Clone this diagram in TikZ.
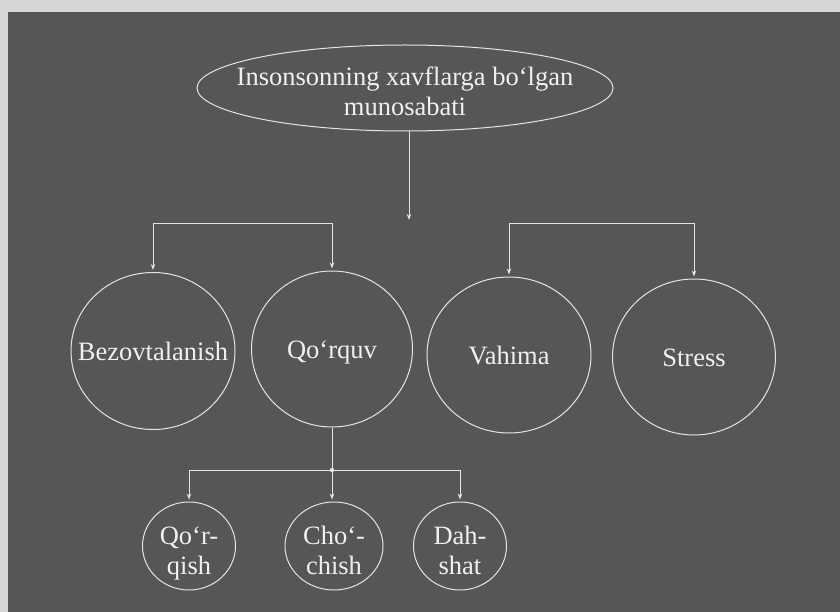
\documentclass[tikz,border=0pt]{standalone}
\usepackage{fontspec}
\setmainfont{Liberation Serif}
\usetikzlibrary{shapes.geometric,arrows.meta}
\definecolor{paper}{HTML}{D6D6D6}
\definecolor{board}{HTML}{565656}
\definecolor{wire}{HTML}{E4E4E4}
\newcommand\bubbletext[2][3pt]{\raisebox{-#1}[\height][\depth]{\makebox[0pt]{\begin{tabular}{@{}c@{}}#2\end{tabular}}}}

\begin{document}
\begin{tikzpicture}[x=1pt,y=-1pt,
                bubble/.style={ellipse,draw=wire,line width=1pt,text=white!94!black,inner sep=0pt,
                               font=\fontsize{26.5}{30}\selectfont},
                link/.style={draw=wire,line width=0.9pt},
                arr/.style={link,-{Stealth[length=6pt,width=4.5pt]},shorten >=2pt}]
                \useasboundingbox (0,0) rectangle (840,612);
                \fill[paper] (0,0) rectangle (840,612);
                \fill[board] (8,12) rectangle (840,612);
                \node[bubble,minimum width=416,minimum height=86] (R) at (405,88) {\bubbletext[7pt]{Insonsonning xavflarga bo‘lgan\\munosabati}};
                \node[bubble,minimum width=164,minimum height=157] (B) at (153,351) {\bubbletext{Bezovtalanish}};
                \node[bubble,minimum width=161,minimum height=156] (Q) at (332,349) {\bubbletext{Qo‘rquv}};
                \node[bubble,minimum width=164,minimum height=156] (V) at (509,355) {\bubbletext{Vahima}};
                \node[bubble,minimum width=163,minimum height=156] (S) at (694,357) {\bubbletext{Stress}};
                \node[bubble,minimum width=93,minimum height=88] (Q1) at (189,546) {\bubbletext[7pt]{Qo‘r-\\qish}};
                \node[bubble,minimum width=98,minimum height=88] (Q2) at (334,546) {\bubbletext[7pt]{Cho‘-\\chish}};
                \node[bubble,minimum width=93,minimum height=88] (Q3) at (460,546) {\bubbletext[7pt]{Dah-\\shat}};
                \coordinate (T) at (409,222);
                \coordinate (J1) at (0,223);
                \coordinate (J2) at (0,470);
                \draw[arr] (R.south -| T) -- (T);
                \draw[link] (B.north |- J1) -- (Q.north |- J1);
                \draw[link] (V.north |- J1) -- (S.north |- J1);
                \draw[arr] (B.north |- J1) -- (B.north);
                \draw[arr] (Q.north |- J1) -- (Q.north);
                \draw[arr] (V.north |- J1) -- (V.north);
                \draw[arr] (S.north |- J1) -- (S.north);
                \draw[link] (Q.south) -- (Q.south |- J2);
                \draw[link] (Q1.north |- J2) -- (Q3.north |- J2);
                \fill[wire] (Q.south |- J2) circle (2.2);
                \draw[arr] (Q1.north |- J2) -- (Q1.north);
                \draw[arr] (Q.south |- J2) -- (Q.south |- Q2.north);
                \draw[arr] (Q3.north |- J2) -- (Q3.north);
            \end{tikzpicture}
\end{document}
